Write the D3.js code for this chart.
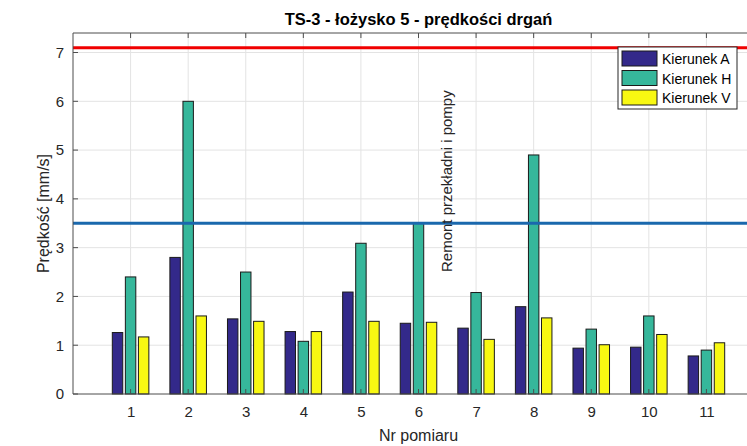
<!DOCTYPE html>
<html>
<head>
    <meta charset="utf-8">
    <title>TS-3 lozysko 5</title>
    <script type="text/javascript" src="https://cdn.jsdelivr.net/npm/d3@7"></script>
    <style>
		body {
			margin: 0;
			background: #fff;
			}
		svg {
			font-family: "Liberation Sans", Arial, sans-serif;
			}
		.grid line {
			stroke: #e3e3e3;
			stroke-width: 1px;
			}
		.ticktext {
			font-size: 15px;
			fill: #262626;
			}
		.axisline {
			stroke: #4d4d4d;
			stroke-width: 1px;
			fill: none;
			}
		.bar {
			stroke: #1a1a1a;
			stroke-width: 1px;
			}
		.mytitle {
			font-size: 16.5px;
			font-weight: bold;
			fill: #000;
			}
		.mylabel {
			font-size: 16px;
			fill: #262626;
			}
		.note {
			font-size: 15px;
			fill: #262626;
			}
		.legtext {
			font-size: 14px;
			fill: #000;
			}
    </style>
</head>

<body>
	<div id="svg_div" class="svg_div"></div>
	<script type="text/javascript">
		// dane
		var pomiary = [1,2,3,4,5,6,7,8,9,10,11];
		var kierunekA = [1.26,2.80,1.54,1.28,2.09,1.45,1.35,1.79,0.94,0.96,0.78];
		var kierunekH = [2.40,6.00,2.50,1.08,3.09,3.50,2.08,4.90,1.33,1.60,0.90];
		var kierunekV = [1.17,1.60,1.49,1.28,1.49,1.47,1.12,1.56,1.01,1.22,1.05];
		var serie = ["Kierunek A","Kierunek H","Kierunek V"];
		var kolory = ["#33298a","#36b79b","#f8f812"];
		var yTicks = [0,1,2,3,4,5,6,7];
		var progi = [7.1, 3.5];
		var progiKolory = ["#f00000","#1a68ad"];
		var notatka = {x: 6.5, y: 2.5, text: "Remont przekładni i pompy"};

		var width = 747,
		height = 446,
		left = 73,
		top_ = 33,
		right = 764,
		bottom = 394;

		var svg = d3.select(".svg_div").append("svg")
			.attr("width", width)
			.attr("height", height);

		var x = d3.scaleLinear().domain([0,12]).range([left,right]);
		var y = d3.scaleLinear().domain([0,7.4]).range([bottom,top_]);
		var inner = d3.scaleBand().domain([0,1,2]).range([-0.34,0.34]).paddingInner(0.2).paddingOuter(0.1);

		// siatka
		var grid = svg.append("g").attr("class","grid");
		grid.selectAll(".gx").data(pomiary).enter().append("line")
			.attr("x1",function(d){return x(d)}).attr("x2",function(d){return x(d)})
			.attr("y1",top_).attr("y2",bottom);
		grid.selectAll(".gy").data(yTicks.slice(1)).enter().append("line")
			.attr("x1",left).attr("x2",right)
			.attr("y1",function(d){return y(d)}).attr("y2",function(d){return y(d)});

		// slupki
		var dane = [kierunekA,kierunekH,kierunekV];
		dane.forEach(function(seria,k){
			svg.append("g").selectAll("rect")
				.data(seria)
				.enter()
				.append("rect")
				.attr("class","bar")
				.attr("x",function(d,i){return x(pomiary[i] + inner(k))})
				.attr("y",function(d){return y(d)})
				.attr("width",x(inner.bandwidth()) - x(0))
				.attr("height",function(d){return y(0) - y(d)})
				.attr("fill",kolory[k]);
		});

		// linie progowe
		svg.append("g").selectAll("line")
			.data(progi)
			.enter()
			.append("line")
			.attr("x1",left).attr("x2",right)
			.attr("y1",function(d){return y(d)}).attr("y2",function(d){return y(d)})
			.attr("stroke",function(d,i){return progiKolory[i]})
			.attr("stroke-width",3);

		// osie
		svg.append("path").attr("class","axisline")
			.attr("d","M" + right + "," + top_ + "H" + left + "V" + bottom + "H" + right);

		var xAxis = d3.axisBottom(x).tickValues(pomiary).tickSize(0).tickPadding(12);
		svg.append("g").attr("transform","translate(0," + bottom + ")").call(xAxis)
			.call(function(g){g.select(".domain").remove()})
			.selectAll("text").attr("class","ticktext").attr("font-family",null).attr("font-size",null);

		var yAxis = d3.axisLeft(y).tickValues(yTicks).tickFormat(d3.format("d")).tickSize(0).tickPadding(9);
		svg.append("g").attr("transform","translate(" + left + ",0)").call(yAxis)
			.call(function(g){g.select(".domain").remove()})
			.selectAll("text").attr("class","ticktext").attr("font-family",null).attr("font-size",null);

		// znaczniki do wewnatrz
		svg.append("g").selectAll("line").data(pomiary).enter().append("line")
			.attr("class","axisline")
			.attr("x1",function(d){return x(d)}).attr("x2",function(d){return x(d)})
			.attr("y1",top_).attr("y2",top_ + 5);
		svg.append("g").selectAll("line").data(pomiary).enter().append("line")
			.attr("class","axisline")
			.attr("x1",function(d){return x(d)}).attr("x2",function(d){return x(d)})
			.attr("y1",bottom).attr("y2",bottom - 5);
		svg.append("g").selectAll("line").data(yTicks).enter().append("line")
			.attr("class","axisline")
			.attr("x1",left).attr("x2",left + 5)
			.attr("y1",function(d){return y(d)}).attr("y2",function(d){return y(d)});

		// notatka
		svg.append("text")
			.attr("class","note")
			.attr("transform","translate(" + (x(notatka.x) + 5) + "," + y(notatka.y) + ") rotate(-90)")
			.text(notatka.text);

		// tytul i opisy
		svg.append("text").attr("class","mytitle")
			.attr("x",(left + right) / 2).attr("y",25)
			.attr("text-anchor","middle")
			.text("TS-3 - łożysko 5 - prędkości drgań");
		svg.append("text").attr("class","mylabel")
			.attr("x",(left + right) / 2).attr("y",441)
			.attr("text-anchor","middle")
			.text("Nr pomiaru");
		svg.append("text").attr("class","mylabel")
			.attr("transform","translate(49," + (top_ + bottom) / 2 + ") rotate(-90)")
			.attr("text-anchor","middle")
			.text("Prędkość [mm/s]");

		// legenda
		var leg = svg.append("g").attr("transform","translate(618,47)");
		leg.append("rect")
			.attr("width",119).attr("height",62)
			.attr("fill","#fff").attr("stroke","#262626").attr("stroke-width",1);
		var legItem = leg.selectAll(".legitem")
			.data(serie)
			.enter()
			.append("g")
			.attr("transform",function(d,i){return "translate(4," + (4 + i * 19.5) + ")"});
		legItem.append("rect")
			.attr("width",35).attr("height",15)
			.attr("fill",function(d,i){return kolory[i]})
			.attr("stroke","#1a1a1a");
		legItem.append("text")
			.attr("class","legtext")
			.attr("x",40).attr("y",13)
			.text(function(d){return d});
    </script>
</body>
</html>
